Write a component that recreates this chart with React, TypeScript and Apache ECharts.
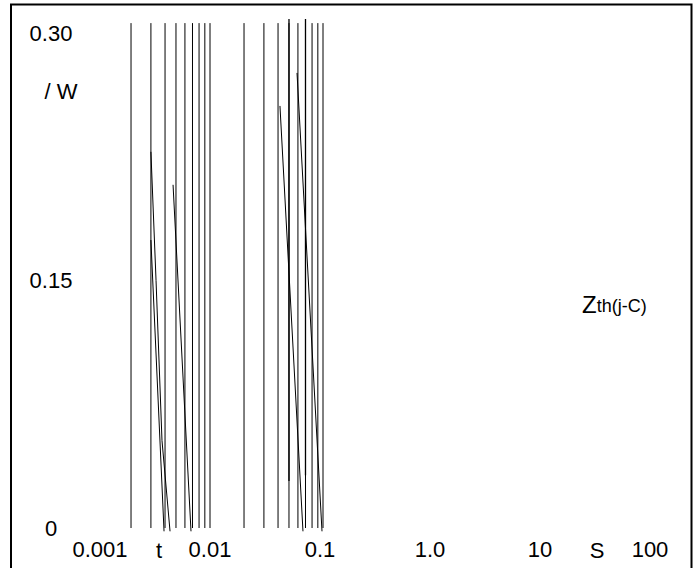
import React, { useEffect, useRef } from "react";
import * as echarts from "echarts";

// Vertical reference lines (time values, s)
const gridTimes = [
  0.002, 0.003, 0.004, 0.005, 0.006, 0.007, 0.008, 0.009, 0.01,
  0.02, 0.03, 0.04, 0.05, 0.06, 0.07, 0.08, 0.09, 0.1,
];
const gridZthTop = 0.306;
const gridZthBottom = 0;

// Darker overlapping segments
const extraTimes = [0.05, 0.07];
const extraZthTop = [0.3085, 0.3085];
const extraZthBottom = [0.0285, 0.032];

// Curves
const curve1Time = [0.003, 0.00333, 0.00376, 0.00443];
const curve1Zth = [0.228, 0.15, 0.053, -0.002];
const curve2Time = [0.003, 0.00392];
const curve2Zth = [0.1745, -0.002];
const curve3Time = [0.00471, 0.00679];
const curve3Zth = [0.208, -0.002];
const curve4Time = [0.0416, 0.0665];
const curve4Zth = [0.2558, -0.002];
const curve5Time = [0.0589, 0.098];
const curve5Zth = [0.2758, -0.002];

// Tick labels
const xTickValues = [0.001, 0.01, 0.1, 1, 10, 100];
const xTickLabels = ["0.001", "0.01", "0.1", "1.0", "10", "100"];
const yTickValues = [0, 0.15, 0.3];
const yTickLabels = ["0", "0.15", "0.30"];

const FONT = "'Liberation Sans', Arial, sans-serif";

export default function App() {
  const ref = useRef<HTMLDivElement>(null);

  useEffect(() => {
    if (!ref.current) return;
    const chart = echarts.init(ref.current, null, { renderer: "svg" });

    const black = "#000";
    const seg = (name: string, pts: number[][], w = 1) => ({
      name,
      type: "line",
      xAxisIndex: 0,
      yAxisIndex: 0,
      data: pts,
      symbol: "none",
      clip: false,
      silent: true,
      lineStyle: { color: black, width: w },
      z: 3,
    });

    const series: any[] = [];
    gridTimes.forEach((t, i) =>
      series.push(seg("grid" + i, [[t, gridZthBottom], [t, gridZthTop]]))
    );
    extraTimes.forEach((t, i) =>
      series.push(seg("extra" + i, [[t, extraZthBottom[i]], [t, extraZthTop[i]]], 1.3))
    );
    const curves = [
      [curve1Time, curve1Zth],
      [curve2Time, curve2Zth],
      [curve3Time, curve3Zth],
      [curve4Time, curve4Zth],
      [curve5Time, curve5Zth],
    ];
    curves.forEach(([ts, zs], i) =>
      series.push(seg("curve" + i, ts.map((t, k) => [t, zs[k]])))
    );

    const gridLeft = 97;
    const gridWidth = 565;
    // label axis: 0.001 at x=100, 110 px per decade
    const lblMin = Math.pow(10, -3 - 3 / 110);
    const lblMax = Math.pow(10, 2 + (gridLeft + gridWidth - 650) / 110);

    chart.setOption({
      animation: false,
      backgroundColor: "#fff",
      textStyle: { fontFamily: FONT },
      grid: {
        left: gridLeft,
        width: gridWidth,
        top: 16.5,
        height: 511.5,
        containLabel: false,
      },
      xAxis: [
        {
          type: "log",
          logBase: 10,
          min: 0.001,
          max: 100,
          axisLine: { show: false },
          axisTick: { show: false },
          axisLabel: { show: false },
          splitLine: { show: false },
        },
        {
          type: "log",
          logBase: 10,
          min: lblMin,
          max: lblMax,
          position: "bottom",
          axisLine: { show: false },
          axisTick: { show: false },
          splitLine: { show: false },
          axisLabel: {
            show: true,
            customValues: xTickValues,
            margin: 10,
            color: black,
            fontSize: 22,
            fontFamily: FONT,
            formatter: (v: number) => {
              let best = 0;
              xTickValues.forEach((tv, i) => {
                if (Math.abs(Math.log10(tv) - Math.log10(v)) < Math.abs(Math.log10(xTickValues[best]) - Math.log10(v))) best = i;
              });
              return xTickLabels[best];
            },
          },
        },
      ],
      yAxis: {
        type: "value",
        min: 0,
        max: 0.31,
        axisLine: { show: false },
        axisTick: { show: false },
        splitLine: { show: false },
        axisLabel: {
          customValues: yTickValues,
          margin: 46,
          align: "center",
          color: black,
          fontSize: 22,
          fontFamily: FONT,
          formatter: (v: number) => {
            let best = 0;
            yTickValues.forEach((tv, i) => {
              if (Math.abs(tv - v) < Math.abs(yTickValues[best] - v)) best = i;
            });
            return yTickLabels[best];
          },
        },
      },
      graphic: [
        {
          type: "rect",
          shape: { x: 11, y: 4.5, width: 680.5, height: 700 },
          style: { fill: "none", stroke: black, lineWidth: 2 },
          silent: true,
          z: 10,
        },
        {
          type: "text",
          x: 61,
          y: 91,
          style: {
            text: "/ W",
            fill: black,
            font: `22px ${FONT}`,
            align: "center",
            verticalAlign: "middle",
          },
        },
        {
          type: "text",
          x: 159,
          y: 550,
          style: {
            text: "t",
            fill: black,
            font: `22px ${FONT}`,
            align: "center",
            verticalAlign: "middle",
          },
        },
        {
          type: "text",
          x: 597,
          y: 550,
          style: {
            text: "S",
            fill: black,
            font: `22px ${FONT}`,
            align: "center",
            verticalAlign: "middle",
          },
        },
        {
          type: "text",
          x: 582,
          y: 304,
          style: {
            text: "{z|Z}{s|th(j-C)}",
            verticalAlign: "middle",
            rich: {
              z: { fontSize: 24, fontFamily: FONT, fill: black },
              s: { fontSize: 18, fontFamily: FONT, fill: black, padding: [4, 0, 0, 0] },
            },
          },
        },
      ],
      series,
    });

    return () => chart.dispose();
  }, []);

  return (
    <div
      ref={ref}
      style={{ position: "absolute", left: 0, top: 0, width: 697, height: 568 }}
    />
  );
}
